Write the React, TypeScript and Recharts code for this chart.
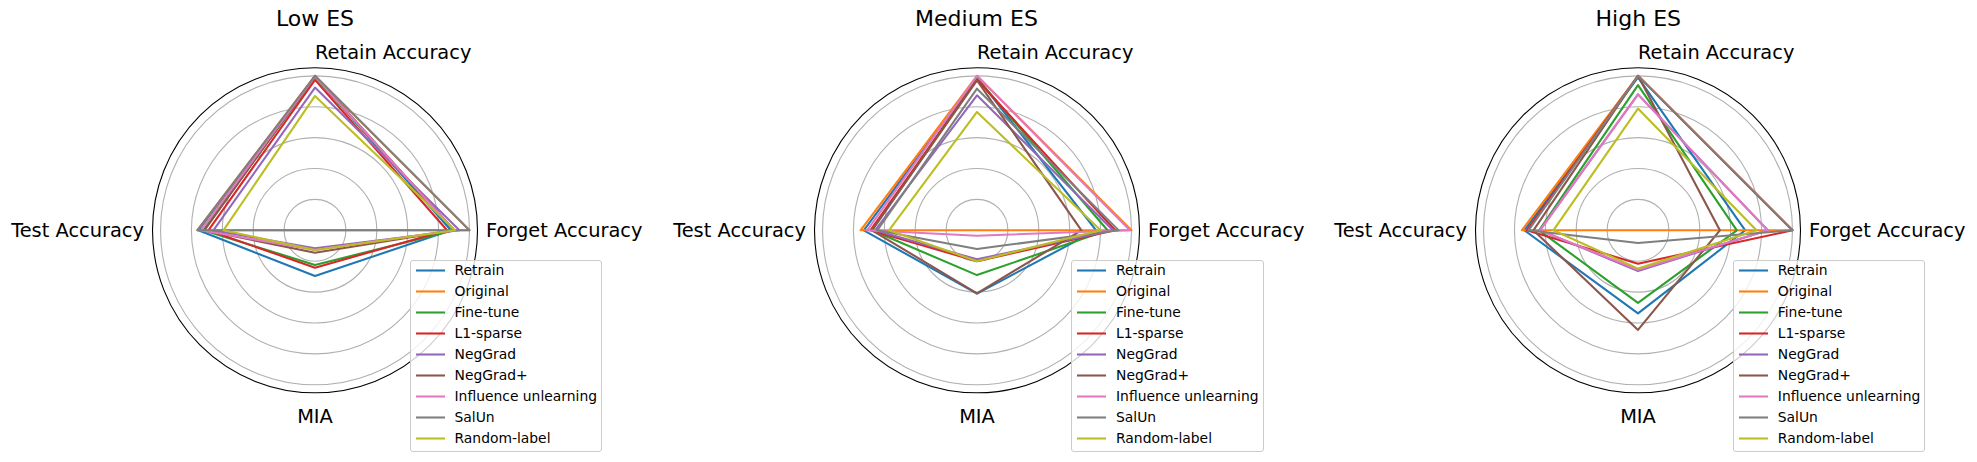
import React from 'react';
import { RadarChart, Radar, PolarGrid, PolarAngleAxis, PolarRadiusAxis, Legend } from 'recharts';

const methods = ['Retrain', 'Original', 'Fine-tune', 'L1-sparse', 'NegGrad', 'NegGrad+', 'Influence unlearning', 'SalUn', 'Random-label'];
const colors = ['#1f77b4', '#ff7f0e', '#2ca02c', '#d62728', '#9467bd', '#8c564b', '#e377c2', '#7f7f7f', '#bcbd22'];
const metrics = ['Retain Accuracy', 'Forget Accuracy', 'MIA', 'Test Accuracy'];
const radialTicks = [0.2, 0.4, 0.6, 0.8, 1.0];
const titles = ['Low ES', 'Medium ES', 'High ES'];

// values per method (order of `methods`)
const lowRetain = [0.995, 1.0, 0.99, 0.974, 0.924, 1.0, 0.995, 1.0, 0.87];
const lowForget = [0.88, 1.0, 0.9, 0.855, 0.935, 0.9, 0.9, 1.0, 0.907];
const lowMIA = [0.296, 0.0, 0.224, 0.242, 0.117, 0.145, 0.127, 0.0, 0.127];
const lowTest = [0.755, 0.762, 0.723, 0.69, 0.658, 0.716, 0.738, 0.762, 0.593];

const medRetain = [0.99, 1.0, 0.985, 0.975, 0.874, 0.97, 1.0, 0.917, 0.766];
const medForget = [0.771, 1.0, 0.845, 0.894, 0.88, 0.676, 0.99, 0.916, 0.8];
const medMIA = [0.41, 0.0, 0.29, 0.2, 0.188, 0.408, 0.035, 0.121, 0.2];
const medTest = [0.733, 0.754, 0.68, 0.69, 0.66, 0.68, 0.711, 0.646, 0.57];

const highRetain = [0.99, 1.0, 0.94, 1.0, 0.88, 1.0, 0.88, 1.0, 0.788];
const highForget = [0.694, 1.0, 0.64, 1.0, 0.84, 0.53, 0.84, 1.0, 0.767];
const highMIA = [0.538, 0.0, 0.47, 0.216, 0.263, 0.645, 0.255, 0.082, 0.248];
const highTest = [0.736, 0.752, 0.64, 0.72, 0.635, 0.677, 0.635, 0.709, 0.548];

const FONT = "'DejaVu Sans', sans-serif";
const CENTERS_X = [315, 976.5, 1638.3];
const CY = 230.3;
const OUTER = 162.5;
const RMAX = 1.052;
const PANEL_W = 660;
const HALF = 330;

function buildData(retain: number[], forget: number[], mia: number[], test: number[]) {
  const cols = [retain, forget, mia, test];
  return metrics.map((m, i) => {
    const row: Record<string, any> = { metric: m };
    methods.forEach((name, j) => {
      row[name] = cols[i][j];
    });
    return row;
  });
}

const datasets = [
  buildData(lowRetain, lowForget, lowMIA, lowTest),
  buildData(medRetain, medForget, medMIA, medTest),
  buildData(highRetain, highForget, highMIA, highTest),
];

const renderTick = (props: any) => {
  const { x, y, payload } = props;
  const i = metrics.indexOf(payload.value);
  let tx = x;
  let ty = y;
  let anchor: 'start' | 'middle' | 'end' = 'middle';
  if (i === 0) {
    anchor = 'start';
    ty = y - 0.5;
  } else if (i === 1) {
    anchor = 'start';
    tx = x + 0.5;
    ty = y + 6.2;
  } else if (i === 2) {
    anchor = 'middle';
    ty = y + 21.9;
  } else {
    anchor = 'end';
    tx = x - 0.5;
    ty = y + 6.2;
  }
  return (
    <text x={tx} y={ty} textAnchor={anchor} fontFamily={FONT} fontSize={19.4} fill="#000">
      {payload.value}
    </text>
  );
};

const renderLegend = (props: any) => {
  const payload = [...(props.payload || [])].sort(
    (a: any, b: any) => methods.indexOf(a.value) - methods.indexOf(b.value)
  );
  return (
    <div
      style={{
        position: 'relative',
        width: 192.5,
        height: 192.3,
        boxSizing: 'border-box',
        border: '1px solid #cccccc',
        borderRadius: 3,
        background: 'rgba(255,255,255,0.8)',
        fontFamily: FONT,
        fontSize: 13.89,
      }}
    >
      {payload.map((entry: any, i: number) => {
        const idx = methods.indexOf(entry.value);
        const c = idx >= 0 ? colors[idx] : entry.color;
        return (
          <div
            key={entry.value}
            style={{
              position: 'absolute',
              left: 0,
              top: 10.7 + 21 * i - 10.5 - 1,
              height: 21,
              lineHeight: '21px',
              whiteSpace: 'nowrap',
            }}
          >
            <svg width={34} height={21} style={{ position: 'absolute', left: 4, top: 0 }}>
              <line x1={1} y1={10.5} x2={30} y2={10.5} stroke={c} strokeWidth={2.08} />
            </svg>
            <span style={{ position: 'absolute', left: 44, top: 0, color: '#000' }}>{entry.value}</span>
          </div>
        );
      })}
    </div>
  );
};

function Panel({ k }: { k: number }) {
  const data = datasets[k];
  return (
    <div style={{ position: 'absolute', left: CENTERS_X[k] - HALF, top: 0, width: PANEL_W, height: 462 }}>
      <RadarChart
        width={PANEL_W}
        height={462}
        data={data}
        cx={HALF}
        cy={CY}
        outerRadius={OUTER}
        margin={{ top: 0, right: 0, bottom: 0, left: 0 }}
      >
        <PolarGrid gridType="circle" radialLines={false} stroke="#b0b0b0" strokeWidth={1.1} />
        <PolarRadiusAxis
          type="number"
          domain={[0, RMAX]}
          ticks={radialTicks}
          tick={false}
          axisLine={false}
          tickLine={false}
        />
        <PolarAngleAxis
          dataKey="metric"
          tick={renderTick}
          tickLine={false}
          tickSize={8}
          axisLineType="circle"
          axisLine={{ stroke: '#000', strokeWidth: 1.1 }}
          stroke="#000"
        />
        {methods.map((name, j) => (
          <Radar
            key={name}
            name={name}
            dataKey={name}
            stroke={colors[j]}
            strokeWidth={2.08}
            strokeLinejoin="round"
            fill="none"
            fillOpacity={0}
            dot={false}
            isAnimationActive={false}
          />
        ))}
        <Legend
          content={renderLegend}
          itemSorter={null as any}
          wrapperStyle={{ position: 'absolute', left: HALF + 94.5, top: 260, width: 193, height: 193 }}
        />
      </RadarChart>
    </div>
  );
}

export default function App() {
  return (
    <div style={{ position: 'absolute', left: 0, top: 0, width: 1977, height: 462, background: '#fff' }}>
      {[0, 1, 2].map((k) => (
        <Panel key={k} k={k} />
      ))}
      <svg width={1977} height={462} style={{ position: 'absolute', left: 0, top: 0, pointerEvents: 'none' }}>
        {titles.map((t, k) => (
          <text key={t} x={CENTERS_X[k]} y={26} textAnchor="middle" fontFamily={FONT} fontSize={22} fill="#000">
            {t}
          </text>
        ))}
      </svg>
    </div>
  );
}
